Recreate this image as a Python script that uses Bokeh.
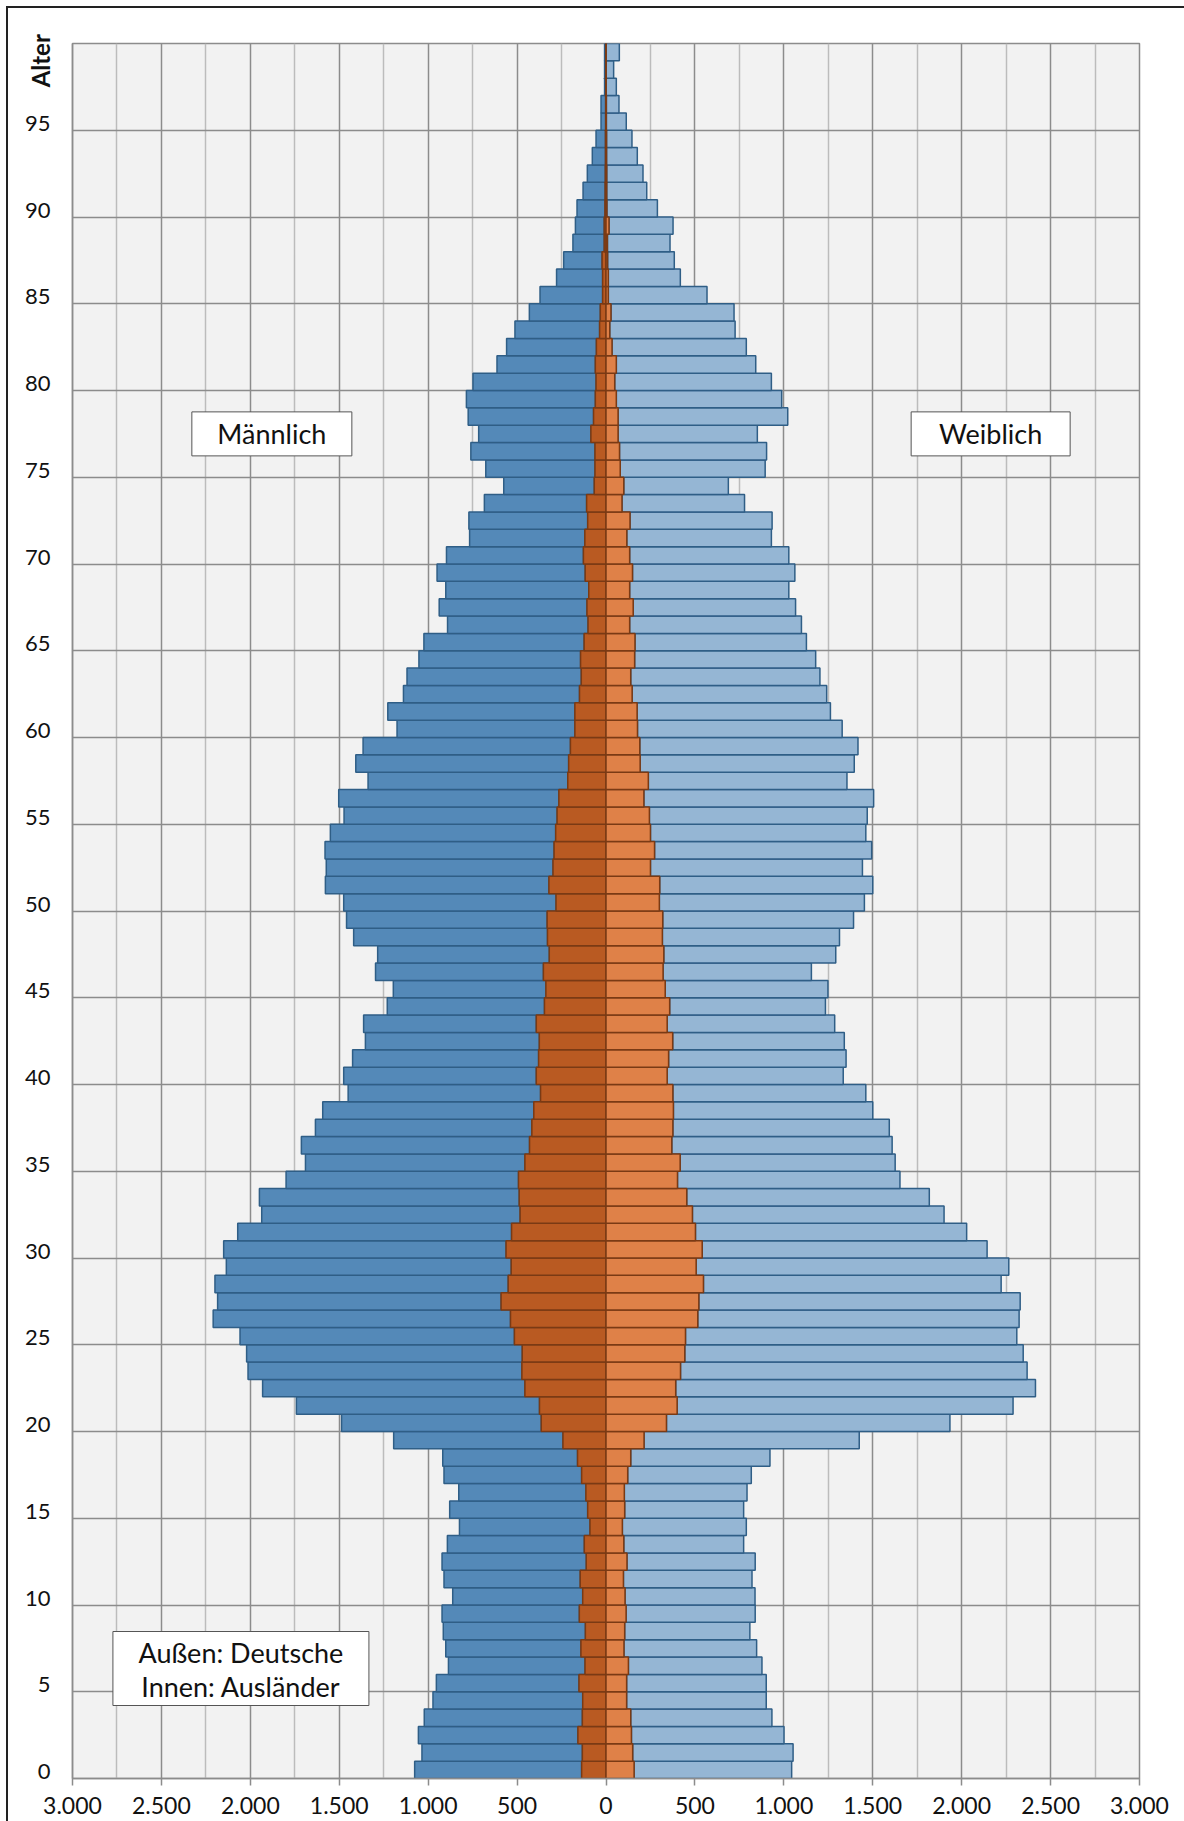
import numpy as np
from bokeh.plotting import figure
from bokeh.models import FixedTicker, LinearAxis, Range1d
from bokeh.core.properties import value
from bokeh.embed import file_html
from bokeh.resources import INLINE

# ---------------- data ----------------
ages = list(range(100))

male_deutsche = [
    939, 902, 897, 889, 842, 802, 768, 760, 799, 772,
    731, 766, 811, 770, 734, 776, 715, 774, 758, 952,
    1123, 1367, 1475, 1540, 1550, 1543, 1672, 1594, 1649, 1602,
    1588, 1540, 1453, 1461, 1307, 1234, 1283, 1217, 1187, 1082,
    1083, 1046, 978, 971, 884, 858, 944, 965, 1090, 1128,
    1194, 1257, 1275, 1288, 1267, 1198, 1238, 1123, 1197, 1166,
    1000, 1052, 990, 980, 909, 901, 790, 831, 804, 833,
    770, 648, 668, 575, 509, 614, 698, 631, 705, 725,
    692, 553, 505, 476, 399, 352, 259, 216, 176, 162,
    157, 124, 101, 74, 53, 26, 26, 7, 7, 7,
]
male_auslaender = [
    137, 133, 158, 133, 131, 152, 118, 141, 116, 150,
    131, 145, 111, 122, 90, 103, 113, 137, 160, 242,
    364, 374, 456, 473, 471, 515, 537, 590, 550, 533,
    562, 531, 483, 488, 492, 456, 430, 417, 406, 368,
    392, 379, 375, 392, 346, 338, 352, 319, 329, 331,
    281, 321, 298, 292, 283, 275, 265, 215, 210, 200,
    175, 175, 149, 139, 143, 123, 101, 107, 97, 117,
    127, 119, 103, 109, 66, 62, 62, 85, 70, 60,
    56, 60, 54, 36, 32, 19, 19, 22, 10, 10,
    6, 5, 4, 3, 3, 2, 2, 1, 1, 1,
]
female_deutsche = [
    886, 902, 858, 794, 785, 785, 751, 746, 704, 726,
    731, 723, 721, 674, 697, 669, 690, 695, 783, 1210,
    1594, 1889, 2023, 1949, 1903, 1863, 1807, 1807, 1674, 1758,
    1602, 1525, 1415, 1364, 1251, 1209, 1239, 1217, 1121, 1085,
    990, 998, 965, 942, 876, 915, 834, 967, 996, 1073,
    1153, 1198, 1192, 1221, 1211, 1225, 1292, 1117, 1204, 1227,
    1151, 1087, 1094, 1064, 1018, 964, 966, 913, 895, 913,
    895, 813, 799, 689, 588, 815, 827, 783, 954, 930,
    881, 784, 755, 705, 692, 555, 405, 375, 352, 360,
    284, 225, 204, 173, 143, 112, 71, 57, 42, 74,
]
female_auslaender = [
    158, 150, 143, 139, 116, 116, 126, 101, 105, 113,
    107, 98, 118, 100, 92, 105, 103, 122, 139, 214,
    340, 400, 392, 419, 443, 447, 516, 522, 548, 507,
    541, 503, 486, 454, 402, 417, 370, 376, 379, 376,
    344, 352, 375, 344, 358, 333, 321, 325, 317, 319,
    300, 302, 250, 273, 250, 244, 213, 238, 192, 190,
    177, 175, 147, 139, 161, 163, 133, 153, 133, 149,
    133, 117, 135, 90, 100, 80, 76, 68, 68, 58,
    49, 58, 34, 21, 28, 13, 13, 9, 8, 17,
    5, 4, 4, 3, 3, 2, 2, 1, 1, 1,
]

x_ticks = [-3000, -2500, -2000, -1500, -1000, -500, 0, 500, 1000, 1500, 2000, 2500, 3000]
x_tick_labels = ["3.000", "2.500", "2.000", "1.500", "1.000", "500", "0",
                 "500", "1.000", "1.500", "2.000", "2.500", "3.000"]
y_ticks = list(range(0, 100, 5))
y_tick_labels = [str(t) for t in y_ticks]
y_title = "Alter"

FONT = "Lato"
GRID = "#8c8c8c"

# ---------------- figure ----------------
p = figure(width=1184, height=1821,
           x_range=Range1d(-3000, 3000), y_range=Range1d(0, 100),
           output_backend="svg", toolbar_location=None,
           min_border_left=72, min_border_right=45,
           min_border_top=43, min_border_bottom=43)
p.styles = {"box-shadow": "inset 6px 6px 0 0 #ffffff, inset 8px 8px 0 0 #222222"}
p.background_fill_color = "#f2f2f2"
p.border_fill_alpha = 0
p.outline_line_color = GRID
p.outline_line_width = 1.5

p.xgrid.ticker = FixedTicker(ticks=x_ticks, minor_ticks=list(range(-2750, 3000, 500)))
p.xgrid.grid_line_color = GRID
p.xgrid.grid_line_width = 1.5
p.xgrid.minor_grid_line_color = "#bcbcbc"
p.xgrid.minor_grid_line_width = 1.5
p.ygrid.ticker = FixedTicker(ticks=list(range(0, 101, 5)))
p.ygrid.grid_line_color = GRID
p.ygrid.grid_line_width = 1.5

# ---------------- bars ----------------
age = np.array(ages)
ma = np.array(male_auslaender)
md = np.array(male_deutsche)
fa = np.array(female_auslaender)
fd = np.array(female_deutsche)
yc = age + 0.5

p.hbar(y=yc, height=1, left=-(ma + md), right=-ma,
       fill_color="#5489b8", line_color="#2f5e86", line_width=1.5)
p.hbar(y=yc, height=1, left=fa, right=fa + fd,
       fill_color="#95b6d4", line_color="#2f5e86", line_width=1.5)
p.hbar(y=yc, height=1, left=-ma, right=0,
       fill_color="#b95a22", line_color="#7a3a14", line_width=1.5)
p.hbar(y=yc, height=1, left=0, right=fa,
       fill_color="#df8148", line_color="#7a3a14", line_width=1.5)

# ---------------- axes ----------------
p.xaxis.ticker = FixedTicker(ticks=x_ticks)
p.xaxis.major_label_overrides = dict(zip(x_ticks, x_tick_labels))
p.xaxis.minor_tick_line_color = None
p.xaxis.major_tick_in = 0
p.xaxis.major_tick_out = 7
p.xaxis.major_tick_line_color = GRID
p.xaxis.major_tick_line_width = 1.5
p.xaxis.axis_line_color = GRID
p.xaxis.axis_line_width = 1.5
p.xaxis.major_label_standoff = 11
p.xaxis.major_label_text_font = FONT
p.xaxis.major_label_text_font_size = "23px"
p.xaxis.major_label_text_color = "#111111"

y_label_pos = [t + 0.4 for t in y_ticks]
p.yaxis.ticker = FixedTicker(ticks=y_label_pos)
p.yaxis.major_label_overrides = dict(zip(y_label_pos, y_tick_labels))
p.yaxis.minor_tick_line_color = None
p.yaxis.major_tick_line_color = None
p.yaxis.axis_line_color = GRID
p.yaxis.axis_line_width = 1.5
p.yaxis.major_label_standoff = 16
p.yaxis.major_label_text_font = FONT
p.yaxis.major_label_text_font_size = "22px"
p.yaxis.major_label_text_color = "#111111"

# "Alter" title at the top of the age column: an extra, tick-less left axis
# (trailing no-break spaces push the rotated word down from the panel end)
alter_axis = LinearAxis(ticker=FixedTicker(ticks=[]),
                        axis_label=y_title + "\u00a0" * 6, axis_label_standoff=-33,
                        axis_label_align="end",
                        axis_label_text_font=FONT, axis_label_text_font_style="bold",
                        axis_label_text_font_size="24px", axis_label_text_color="#111111",
                        axis_line_color=None, major_tick_line_color=None,
                        minor_tick_line_color=None, major_label_text_font_size="0px")
p.add_layout(alter_axis, "left")

# ---------------- boxes ----------------
p.rect(x=[-1879, 2163], y=[77.5, 77.5], width=[160, 159], height=[44, 44],
       width_units="screen", height_units="screen",
       fill_color="white", line_color="#555555", line_width=1)
p.text(x=[-1879, 2163], y=[77.5, 77.5], text=["Männlich", "Weiblich"],
       text_align="center", text_baseline="middle",
       text_font=value(FONT), text_font_size="27px", text_color="#111111")

p.rect(x=[-2053], y=[6.34], width=[256], height=[74],
       width_units="screen", height_units="screen",
       fill_color="white", line_color="#555555", line_width=1)
p.text(x=[-2053, -2053], y=[7.26, 5.30], text=["Außen: Deutsche", "Innen: Ausländer"],
       text_align="center", text_baseline="middle",
       text_font=value(FONT), text_font_size="27px", text_color="#111111")

open("out.html", "w").write(file_html(p, INLINE))
